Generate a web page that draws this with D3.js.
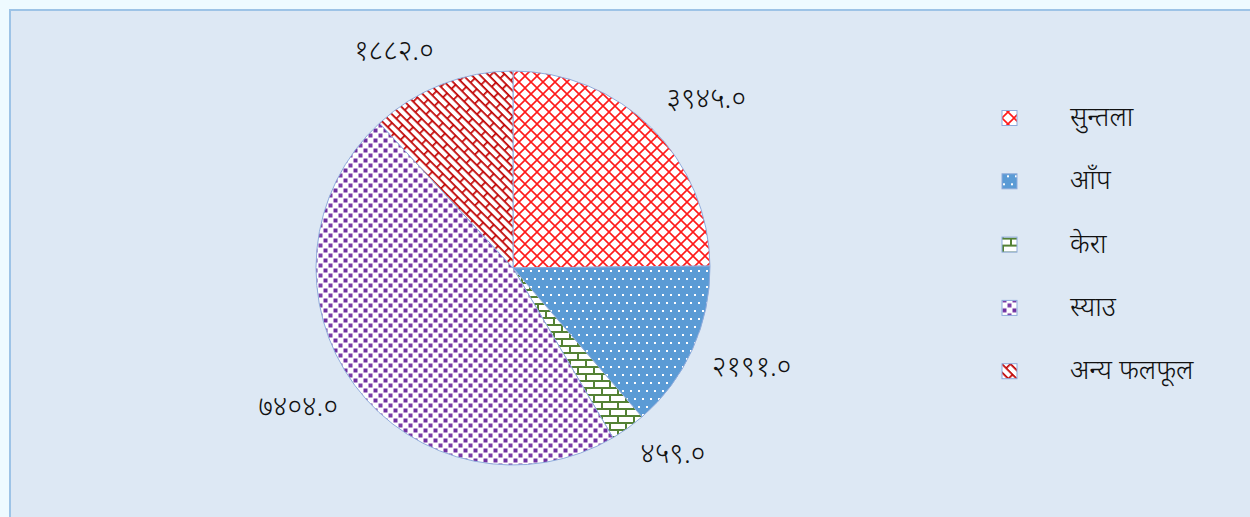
<!DOCTYPE html>
<html>
<head>
<meta charset="utf-8">
<script src="https://cdn.jsdelivr.net/npm/d3@7"></script>
<style>
  body { margin: 0; background: #eefaff; }
  svg { display: block; }
  text { font-family: "Noto Sans", "Noto Sans Devanagari", "Lohit Devanagari", sans-serif; fill: #111; }
</style>
</head>
<body>
<div class="holder"></div>
<script>
// data
var categories = ["सुन्तला", "आँप", "केरा", "स्याउ", "अन्य फलफूल"];
var values = [3945.0, 2191.0, 459.0, 7404.0, 1882.0];
var patternIds = ["pOrange", "pMango", "pBanana", "pApple", "pOther"];

var width = 1250, height = 517;
var cx = 513, cy = 268, radius = 197;
var labelRadius = 218;

// nepali digits for the labels
var devDigits = "०१२३४५६७८९";
function toDev(v) {
	return v.toFixed(1).replace(/[0-9]/g, function(d) { return devDigits[+d]; });
}

var chart = d3.select(".holder")
	.append("svg")
	.attr("width", width)
	.attr("height", height);

var defs = chart.append("defs");

// red lattice
var p = defs.append("pattern").attr("id", "pOrange")
	.attr("patternUnits", "userSpaceOnUse").attr("width", 12).attr("height", 12);
p.append("rect").attr("width", 12).attr("height", 12).attr("fill", "#fff");
p.append("path").attr("d", "M0,0L12,12M12,0L0,12")
	.attr("stroke", "#ff1a1a").attr("stroke-width", 1.6).attr("fill", "none");

// blue with white dots
p = defs.append("pattern").attr("id", "pMango")
	.attr("patternUnits", "userSpaceOnUse").attr("width", 8).attr("height", 16);
p.append("rect").attr("width", 8).attr("height", 16).attr("fill", "#5b9bd5");
p.append("rect").attr("x", 1).attr("y", 2).attr("width", 2).attr("height", 2).attr("fill", "#fff");
p.append("rect").attr("x", 5).attr("y", 10).attr("width", 2).attr("height", 2).attr("fill", "#fff");

// green horizontal bricks
p = defs.append("pattern").attr("id", "pBanana")
	.attr("patternUnits", "userSpaceOnUse").attr("width", 16).attr("height", 14);
p.append("rect").attr("width", 16).attr("height", 14).attr("fill", "#fff");
p.append("path").attr("d", "M0,1H16M0,8H16M1,1V8M9,8V14")
	.attr("stroke", "#548235").attr("stroke-width", 2).attr("fill", "none");

// purple squares
p = defs.append("pattern").attr("id", "pApple")
	.attr("patternUnits", "userSpaceOnUse").attr("width", 10).attr("height", 10);
p.append("rect").attr("width", 10).attr("height", 10).attr("fill", "#fff");
p.append("rect").attr("x", 0.5).attr("y", 0.5).attr("width", 4).attr("height", 4).attr("fill", "#7030a0");
p.append("rect").attr("x", 5.5).attr("y", 5.5).attr("width", 4).attr("height", 4).attr("fill", "#7a3aa8");

// dark red diagonal bricks
p = defs.append("pattern").attr("id", "pOther")
	.attr("patternUnits", "userSpaceOnUse").attr("width", 18).attr("height", 12)
	.attr("patternTransform", "rotate(45)");
p.append("rect").attr("width", 18).attr("height", 12).attr("fill", "#fff");
p.append("path").attr("d", "M0,0.8H18M0,6.8H18M0.8,0.8V6.8M9.8,6.8V12")
	.attr("stroke", "#c00000").attr("stroke-width", 1.7).attr("fill", "none");

// chart area frame
chart.append("rect")
	.attr("x", 10).attr("y", 10)
	.attr("width", width).attr("height", height)
	.attr("fill", "#dde8f4")
	.attr("stroke", "#9dc3e6")
	.attr("stroke-width", 2);

var pie = d3.pie().sort(null).value(function(d) { return d; });
var arcs = pie(values);
var arc = d3.arc().innerRadius(0).outerRadius(radius);
var labelArc = d3.arc().innerRadius(labelRadius).outerRadius(labelRadius);

var g = chart.append("g").attr("transform", "translate(" + cx + "," + cy + ")");

g.selectAll("path.slice")
	.data(arcs)
	.enter().append("path")
	.attr("class", "slice")
	.attr("d", arc)
	.attr("fill", function(d, i) { return "url(#" + patternIds[i] + ")"; })
	.attr("stroke", "#8eaadb")
	.attr("stroke-width", 1);

// labels sit with their nearest corner on the label arc
g.selectAll("text.lbl")
	.data(arcs)
	.enter().append("text")
	.attr("class", "lbl")
	.attr("x", function(d) { return labelArc.centroid(d)[0]; })
	.attr("y", function(d) { return labelArc.centroid(d)[1]; })
	.attr("dy", function(d) { return labelArc.centroid(d)[1] < 0 ? -5 : 18; })
	.attr("text-anchor", function(d) { return labelArc.centroid(d)[0] < 0 ? "end" : "start"; })
	.style("font-size", "28px")
	.style("font-weight", "300")
	.text(function(d) { return toDev(d.value); });

// legend
var legend = chart.append("g").attr("transform", "translate(1002,118)");
var rowStep = 63.3;
var items = legend.selectAll("g.item")
	.data(categories)
	.enter().append("g")
	.attr("class", "item")
	.attr("transform", function(d, i) { return "translate(0," + (i * rowStep) + ")"; });

items.append("rect")
	.attr("x", 0).attr("y", -7.5)
	.attr("width", 15).attr("height", 15)
	.attr("fill", function(d, i) { return "url(#" + patternIds[i] + ")"; })
	.attr("stroke", "#8eaadb")
	.attr("stroke-width", 1);

items.append("text")
	.attr("x", 68)
	.attr("y", 0)
	.attr("dy", "0.3em")
	.style("font-size", "27px")
	.style("font-weight", "300")
	.text(function(d) { return d; });
</script>
</body>
</html>
